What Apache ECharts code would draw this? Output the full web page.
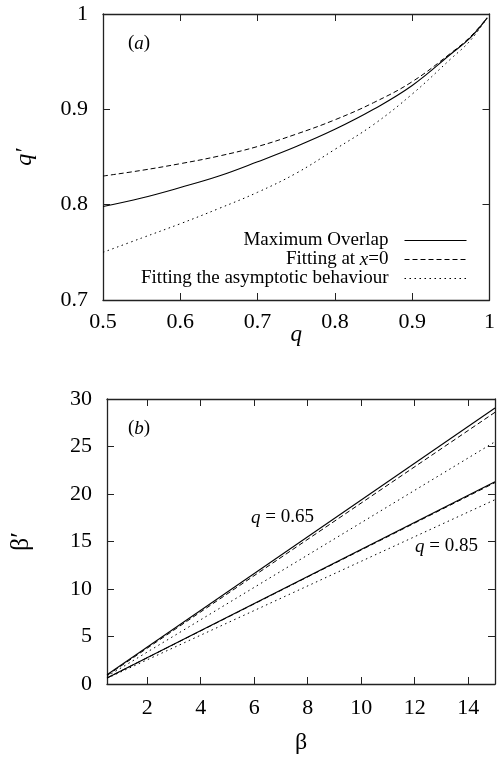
<!DOCTYPE html>
<html>
<head>
<meta charset="utf-8">
<script src="https://cdn.jsdelivr.net/npm/echarts@6/dist/echarts.min.js"></script>
<style>
html,body{margin:0;padding:0;background:#fff;}
#c{width:498px;height:760px;}
</style>
</head>
<body>
<div id="c"></div>
<script>
// ---- Panel (a) data ----
var qValues      = [0.5,   0.55,  0.6,   0.65,  0.7,   0.75,  0.8,   0.85,  0.9,   0.95,  0.975, 0.997];
var maxOverlap   = [0.798, 0.807, 0.818, 0.830, 0.845, 0.861, 0.879, 0.900, 0.925, 0.958, 0.975, 0.996];
var fitAtX0      = [0.830, 0.836, 0.843, 0.851, 0.861, 0.874, 0.889, 0.907, 0.929, 0.959, 0.976, 0.996];
var fitAsymptote = [0.750, 0.765, 0.780, 0.796, 0.813, 0.833, 0.858, 0.884, 0.916, 0.953, 0.972, 0.996];
var qTickLabels  = [0.5, 0.6, 0.7, 0.8, 0.9, 1];
var qPrimeTicks  = [0.7, 0.8, 0.9, 1];

// ---- Panel (b) data ----
var betaValues        = [0.5, 15];
var q065MaxOverlap    = [0.98, 29.05];
var q065FitAtX0       = [0.90, 28.6];
var q065FitAsymptote  = [0.80, 25.5];
var q085MaxOverlap    = [0.63, 21.3];
var q085FitAtX0       = [0.63, 21.2];
var q085FitAsymptote  = [0.60, 19.4];
var betaTickLabels    = [2, 4, 6, 8, 10, 12, 14];
var betaPrimeTicks    = [0, 5, 10, 15, 20, 25, 30];

function pairs(xs, ys){ return xs.map(function(x,i){ return [x, ys[i]]; }); }

var FONT = '"Liberation Serif", "Times New Roman", serif';
var AXC = '#222';
var SOLID = 'solid', DASH = [5, 3], DOT = [1.5, 3.5];

function axisCommon(extra){
  var o = {
    axisLine:{show:true, onZero:false, lineStyle:{color:AXC, width:1.3}},
    axisTick:{show:true, inside:true, length:7, lineStyle:{color:AXC, width:1}},
    splitLine:{show:false},
    axisLabel:{show:true, fontFamily:FONT, fontSize:22, color:'#000', margin:12},
    nameTextStyle:{fontFamily:FONT, color:'#000'},
    nameMoveOverlap:false
  };
  for (var k in extra){
    if (typeof extra[k] === 'object' && !Array.isArray(extra[k]) && o[k]) {
      for (var j in extra[k]) o[k][j] = extra[k][j];
    } else o[k] = extra[k];
  }
  return o;
}

var chart = echarts.init(document.getElementById('c'), null, {renderer:'canvas'});
var option = {
  backgroundColor:'#fff',
  animation:false,
  grid:[
    {left:103, top:14, width:392, height:286},
    {left:103, top:399, width:392, height:285}
  ],
  xAxis:[
    axisCommon({type:'value', gridIndex:0, min:0.5, max:1, position:'bottom',
      axisLabel:{customValues:qTickLabels, margin:11}, axisTick:{customValues:qTickLabels},
      name:'q', nameLocation:'middle', nameGap:23,
      nameTextStyle:{fontFamily:FONT, fontSize:23, fontStyle:'italic', color:'#000'}}),
    axisCommon({type:'value', gridIndex:0, min:0.5, max:1, position:'top',
      axisLabel:{show:false}, axisTick:{customValues:qTickLabels}}),
    axisCommon({type:'value', gridIndex:1, min:0.5, max:15, position:'bottom',
      axisLabel:{customValues:betaTickLabels, margin:13}, axisTick:{customValues:betaTickLabels},
      name:'β', nameLocation:'middle', nameGap:47,
      nameTextStyle:{fontFamily:FONT, fontSize:24, color:'#000'}}),
    axisCommon({type:'value', gridIndex:1, min:0.5, max:15, position:'top',
      axisLabel:{show:false}, axisTick:{customValues:betaTickLabels}})
  ],
  yAxis:[
    axisCommon({type:'value', gridIndex:0, min:0.7, max:1, position:'left',
      axisLabel:{customValues:qPrimeTicks, margin:15}, axisTick:{customValues:qPrimeTicks},
      name:'q′', nameLocation:'middle', nameGap:66, nameRotate:90,
      nameTextStyle:{fontFamily:FONT, fontSize:24, fontStyle:'italic', color:'#000'}}),
    axisCommon({type:'value', gridIndex:0, min:0.7, max:1, position:'right',
      axisLabel:{show:false}, axisTick:{customValues:qPrimeTicks}}),
    axisCommon({type:'value', gridIndex:1, min:0, max:30, position:'left',
      axisLabel:{customValues:betaPrimeTicks, margin:15}, axisTick:{customValues:betaPrimeTicks},
      name:'β′', nameLocation:'middle', nameGap:73, nameRotate:90,
      nameTextStyle:{fontFamily:FONT, fontSize:26, color:'#000'}}),
    axisCommon({type:'value', gridIndex:1, min:0, max:30, position:'right',
      axisLabel:{show:false}, axisTick:{customValues:betaPrimeTicks}})
  ],
  legend:{
    data:['Maximum Overlap','Fitting at x=0','Fitting the asymptotic behaviour'],
    orient:'vertical', align:'right', right:26, top:226,
    itemWidth:62, itemHeight:12, itemGap:0,
    selectedMode:false,
    itemStyle:{opacity:0},
    lineStyle:{width:1},
    formatter:function(name){
      if (name === 'Fitting at x=0') return '{n|Fitting at }{i|x}{n|=0}';
      return '{n|' + name + '}';
    },
    textStyle:{fontFamily:FONT, fontSize:19, color:'#000', padding:[0,11,0,0],
      rich:{n:{fontFamily:FONT, fontSize:19, color:'#000'},
            i:{fontFamily:FONT, fontSize:19, fontStyle:'italic', color:'#000'}}}
  },
  graphic:[
    {type:'text', left:128, top:34, style:{
      text:'{n|(}{i|a}{n|)}', rich:{n:{fontFamily:FONT,fontSize:19,fill:'#000'},i:{fontFamily:FONT,fontSize:19,fontStyle:'italic',fill:'#000'}}}},
    {type:'text', left:128, top:419, style:{
      text:'{n|(}{i|b}{n|)}', rich:{n:{fontFamily:FONT,fontSize:19,fill:'#000'},i:{fontFamily:FONT,fontSize:19,fontStyle:'italic',fill:'#000'}}}},
    {type:'text', left:251, top:508, style:{
      text:'{i|q}{n| = 0.65}', rich:{n:{fontFamily:FONT,fontSize:19,fill:'#000'},i:{fontFamily:FONT,fontSize:19,fontStyle:'italic',fill:'#000'}}}},
    {type:'text', left:415, top:537, style:{
      text:'{i|q}{n| = 0.85}', rich:{n:{fontFamily:FONT,fontSize:19,fill:'#000'},i:{fontFamily:FONT,fontSize:19,fontStyle:'italic',fill:'#000'}}}}
  ],
  series:[
    {name:'Maximum Overlap', type:'line', xAxisIndex:0, yAxisIndex:0, data:pairs(qValues, maxOverlap),
      smooth:0.4, symbol:'none', itemStyle:{color:'#000'}, lineStyle:{color:'#000', width:1.1, type:SOLID}},
    {name:'Fitting at x=0', type:'line', xAxisIndex:0, yAxisIndex:0, data:pairs(qValues, fitAtX0),
      smooth:0.4, symbol:'none', itemStyle:{color:'#000'}, lineStyle:{color:'#000', width:1, type:DASH}},
    {name:'Fitting the asymptotic behaviour', type:'line', xAxisIndex:0, yAxisIndex:0, data:pairs(qValues, fitAsymptote),
      smooth:0.4, symbol:'none', itemStyle:{color:'#000'}, lineStyle:{color:'#000', width:1, type:DOT}},

    {name:'b065max', type:'line', xAxisIndex:2, yAxisIndex:2, data:pairs(betaValues, q065MaxOverlap),
      symbol:'none', lineStyle:{color:'#000', width:1.1, type:SOLID}},
    {name:'b065x0', type:'line', xAxisIndex:2, yAxisIndex:2, data:pairs(betaValues, q065FitAtX0),
      symbol:'none', lineStyle:{color:'#000', width:1, type:DASH}},
    {name:'b065asym', type:'line', xAxisIndex:2, yAxisIndex:2, data:pairs(betaValues, q065FitAsymptote),
      symbol:'none', lineStyle:{color:'#000', width:1, type:DOT}},
    {name:'b085max', type:'line', xAxisIndex:2, yAxisIndex:2, data:pairs(betaValues, q085MaxOverlap),
      symbol:'none', lineStyle:{color:'#000', width:1.1, type:SOLID}},
    {name:'b085x0', type:'line', xAxisIndex:2, yAxisIndex:2, data:pairs(betaValues, q085FitAtX0),
      symbol:'none', lineStyle:{color:'#000', width:1, type:DASH}},
    {name:'b085asym', type:'line', xAxisIndex:2, yAxisIndex:2, data:pairs(betaValues, q085FitAsymptote),
      symbol:'none', lineStyle:{color:'#000', width:1, type:DOT}}
  ]
};
chart.setOption(option);
</script>
</body>
</html>
